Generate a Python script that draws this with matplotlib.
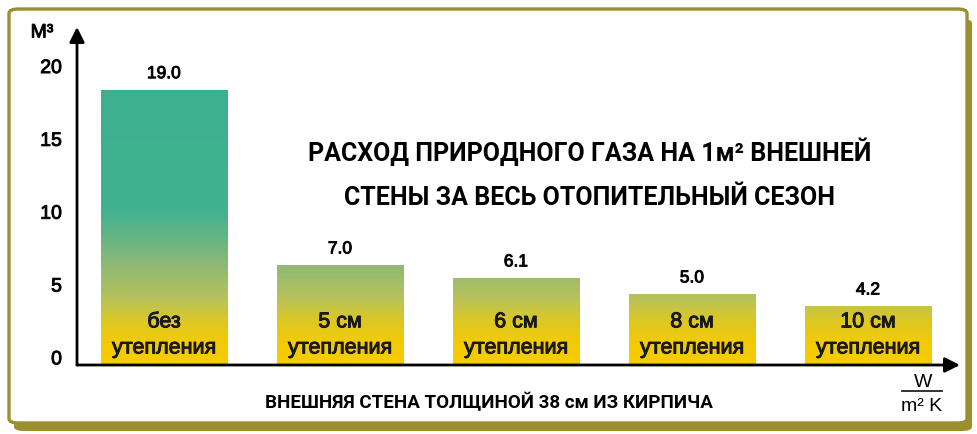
import numpy as np
import matplotlib.pyplot as plt
from matplotlib.patches import FancyBboxPatch
from matplotlib.colors import LinearSegmentedColormap
import matplotlib.patheffects as pe

# data
values = [19.0, 7.0, 6.1, 5.0, 4.2]
bar_heights = [18.9, 6.87, 5.98, 4.88, 4.05]
line1 = ['без', '5 см', '6 см', '8 см', '10 см']
line2 = ['утепления'] * 5
y_ticks = [0, 5, 10, 15, 20]
title1 = 'РАСХОД ПРИРОДНОГО ГАЗА НА 1м² ВНЕШНЕЙ'
title2 = 'СТЕНЫ ЗА ВЕСЬ ОТОПИТЕЛЬНЫЙ СЕЗОН'
x_caption = 'ВНЕШНЯЯ СТЕНА ТОЛЩИНОЙ 38 см ИЗ КИРПИЧА'

W, H = 977, 435
border = '#9e8f2e'
heavy = [pe.withStroke(linewidth=0.7, foreground='#111111')]


def px(x, y):
    return x / W, 1 - y / H


fig = plt.figure(figsize=(W / 100, H / 100), dpi=100)
fig.patch.set_facecolor('white')

# frame with shadow
shadow = FancyBboxPatch(px(14, 432), 958 / W, 412 / H, boxstyle='round,pad=0,rounding_size=0.01',
                        transform=fig.transFigure, facecolor=border, edgecolor='none', zorder=0)
frame = FancyBboxPatch(px(9, 424), 958 / W, 414 / H, boxstyle='round,pad=0,rounding_size=0.01',
                       transform=fig.transFigure, facecolor='white', edgecolor=border, linewidth=2.4, zorder=1)
fig.patches.extend([shadow, frame])

ax = fig.add_axes([77 / W, (H - 366) / H, 883 / W, 338 / H])
ax.set_facecolor('none')
ax.set_zorder(2)
x = np.arange(len(values))
ax.set_xlim(-0.494, 4.523)
ax.set_ylim(0, 23.2)
for s in ax.spines.values():
    s.set_visible(False)
ax.set_xticks([])
ax.set_yticks([])

cmap = LinearSegmentedColormap.from_list('gas', [
    (0.0, '#f7cc00'), (1.5 / 20, '#f2cb05'), (3.0 / 20, '#dcc825'), (4.5 / 20, '#b7c25a'),
    (7.0 / 20, '#8bb977'), (9.0 / 20, '#5fb485'), (10.7 / 20, '#40b290'), (1.0, '#3db08f')])
grad = np.linspace(0, 20, 256).reshape(-1, 1)

bars = ax.bar(x, bar_heights, width=0.716, color='none', edgecolor='none')
for b in bars:
    im = ax.imshow(grad, cmap=cmap, origin='lower', aspect='auto',
                   extent=(-0.5, 4.6, 0, 20), vmin=0, vmax=20, zorder=1)
    im.set_clip_path(b)

for i, v in enumerate(values):
    ax.annotate(f'{v:.1f}', (x[i], bar_heights[i]), xytext=(0, 11.5), textcoords='offset points',
                ha='center', va='center', fontsize=12.5, family='Liberation Sans', path_effects=heavy)
    ax.text(x[i], 2.96, line1[i], ha='center', va='center', fontsize=15.5,
            family='Liberation Sans', color='#1a1a1a', path_effects=heavy)
    ax.text(x[i], 1.17, line2[i], ha='center', va='center', fontsize=15.5,
            family='Liberation Sans', color='#1a1a1a', path_effects=heavy)

for t in y_ticks:
    ax.text(-0.017, t + 0.35, str(t), transform=ax.get_yaxis_transform(), ha='right', va='center',
            fontsize=14, family='Liberation Sans', path_effects=heavy)

# axes with arrows
arrow = dict(arrowstyle='-|>,head_length=0.9,head_width=0.45', color='black', lw=2,
             shrinkA=0, shrinkB=0)
ax.annotate('', xy=(0, 1), xytext=(0, 0), xycoords='axes fraction', arrowprops=arrow)
ax.annotate('', xy=(1, 0), xytext=(0, 0), xycoords='axes fraction', arrowprops=arrow)

bold_font = ['Liberation Sans Narrow', 'Roboto', 'DejaVu Sans']
fig.text(*px(590, 152), title1, ha='center', va='center', fontsize=18, weight='bold', family=bold_font)
fig.text(*px(590, 198), title2, ha='center', va='center', fontsize=18, weight='bold', family=bold_font)
fig.text(*px(489, 403), x_caption, ha='center', va='center', fontsize=13.5, weight='bold', family=bold_font)

fig.text(*px(42, 34), 'M³', ha='center', va='center', fontsize=14, family='Liberation Sans',
         path_effects=heavy)
fig.text(*px(923, 383), 'W', ha='center', va='center', fontsize=14, family='Liberation Sans')
fig.add_artist(plt.Line2D([902 / W, 942 / W], [1 - 392 / H, 1 - 392 / H], color='#222222', lw=1.3,
                          transform=fig.transFigure))
fig.text(*px(922, 407), 'm² K', ha='center', va='center', fontsize=14, family='Liberation Sans')

fig.savefig('out.png', dpi=100, facecolor='white')
